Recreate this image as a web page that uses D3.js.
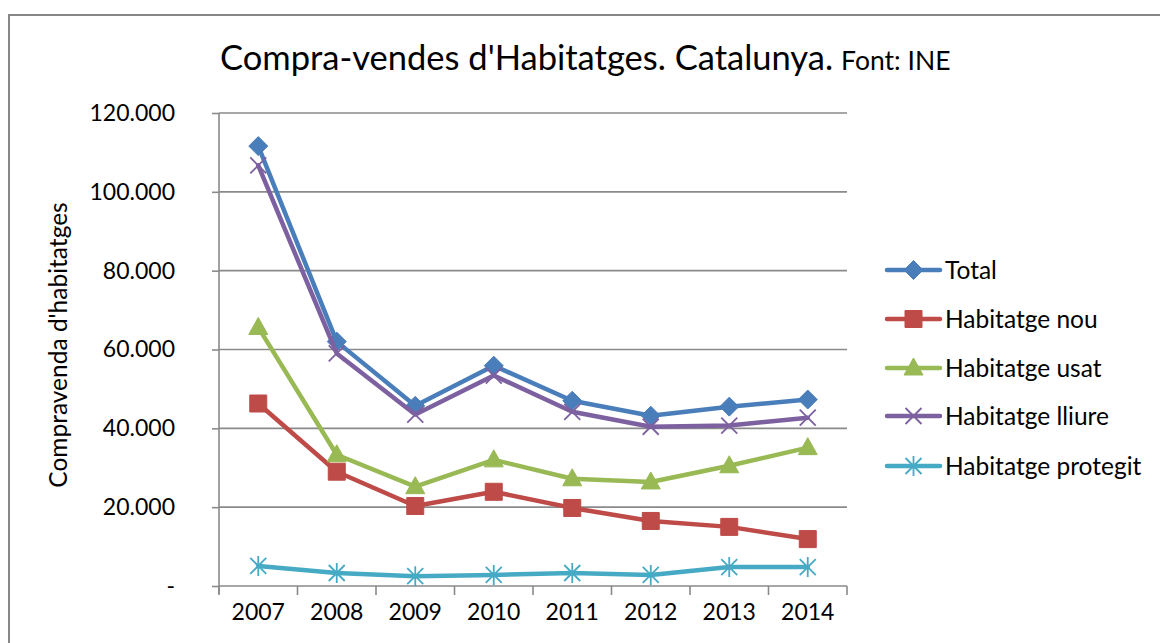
<!DOCTYPE html>
<html>
<head>
<meta charset="utf-8">
<script src="https://cdn.jsdelivr.net/npm/d3@7"></script>
<style>
  body { margin: 0; background: white; }
  text { font-family: Lato, "Open Sans", sans-serif; fill: #000; }
</style>
</head>
<body>
<div id="chart"></div>
<script>
var years = ["2007", "2008", "2009", "2010", "2011", "2012", "2013", "2014"];
var yTicks = [0, 20000, 40000, 60000, 80000, 100000, 120000];

var seriesNames = ["Total", "Habitatge nou", "Habitatge usat", "Habitatge lliure", "Habitatge protegit"];
var seriesColors = ["#4a7ebb", "#be4b48", "#98b954", "#7d60a0", "#46aac5"];
var seriesMarkers = ["diamond", "square", "triangle", "x", "star"];

var total     = [111600, 62000, 45700, 55900, 47000, 43200, 45500, 47300];
var nou       = [46300, 29000, 20300, 23900, 19800, 16500, 15000, 11900];
var usat      = [65600, 33300, 25200, 32000, 27200, 26400, 30500, 35100];
var lliure    = [106700, 59000, 43500, 53400, 44200, 40400, 40700, 42700];
var protegit  = [5100, 3300, 2500, 2800, 3300, 2800, 4800, 4800];

var seriesValues = [total, nou, usat, lliure, protegit];

var width = 1160, height = 643;
var plot = {left: 219, right: 847, top: 113, bottom: 586};

var svg = d3.select("#chart").append("svg")
  .attr("width", width)
  .attr("height", height);

// chart border (runs off the right/bottom edge like the screenshot)
svg.append("rect")
  .attr("x", 9).attr("y", 15)
  .attr("width", 1200).attr("height", 700)
  .attr("fill", "white")
  .attr("stroke", "#878787")
  .attr("stroke-width", 2);

var x = d3.scaleBand()
  .domain(years)
  .range([plot.left, plot.right])
  .paddingInner(0).paddingOuter(0);

var y = d3.scaleLinear()
  .domain([0, 120000])
  .range([plot.bottom, plot.top]);

function fmt(v) {
  if (v === 0) return "-";
  return d3.format(",")(v).replace(/,/g, ".");
}

// gridlines
svg.append("g")
  .selectAll("line")
  .data(yTicks.filter(function(d) { return d > 0; }))
  .enter().append("line")
    .attr("x1", plot.left).attr("x2", plot.right)
    .attr("y1", function(d) { return y(d); })
    .attr("y2", function(d) { return y(d); })
    .attr("stroke", "#8a8a8a")
    .attr("stroke-width", 1.6);

// y axis
var yAxis = svg.append("g")
  .attr("transform", "translate(" + plot.left + ",0)")
  .call(d3.axisLeft(y).tickValues(yTicks).tickFormat(fmt).tickSize(7).tickPadding(37));
yAxis.select(".domain").attr("stroke", "#8a8a8a").attr("stroke-width", 1.6)
  .attr("d", "M0," + (plot.top) + "V" + (plot.bottom + 8));
yAxis.selectAll(".tick line").attr("stroke", "#8a8a8a").attr("stroke-width", 1.6);
yAxis.selectAll(".tick text").attr("font-size", 23).attr("font-family", "Lato");

// x axis
var xAxis = svg.append("g")
  .attr("transform", "translate(0," + plot.bottom + ")")
  .call(d3.axisBottom(x).tickSize(0).tickPadding(18));
xAxis.select(".domain").attr("stroke", "#8a8a8a").attr("stroke-width", 1.6)
  .attr("d", "M" + plot.left + ",0H" + plot.right);
xAxis.selectAll(".tick text").attr("font-size", 23).attr("font-family", "Lato");
xAxis.append("g")
  .selectAll("line")
  .data(years.concat(["end"]))
  .enter().append("line")
    .attr("x1", function(d, i) { return i < years.length ? x(d) : plot.right; })
    .attr("x2", function(d, i) { return i < years.length ? x(d) : plot.right; })
    .attr("y1", 0).attr("y2", 9)
    .attr("stroke", "#8a8a8a")
    .attr("stroke-width", 1.6);

// titles
svg.append("text")
  .attr("x", 220).attr("y", 70)
  .attr("font-size", 34.5)
  .text("Compra-vendes d'Habitatges. Catalunya.")
  .append("tspan")
    .attr("dx", 8)
    .attr("font-size", 26.5)
    .text("Font: INE");

svg.append("text")
  .attr("transform", "translate(67,345) rotate(-90)")
  .attr("text-anchor", "middle")
  .attr("font-size", 24.5)
  .text("Compravenda d'habitatges");

function markerPath(type) {
  var p = d3.path();
  if (type === "diamond") {
    p.moveTo(0, -9.5); p.lineTo(9.5, 0); p.lineTo(0, 9.5); p.lineTo(-9.5, 0); p.closePath();
  } else if (type === "square") {
    p.rect(-8.5, -8.5, 17, 17);
  } else if (type === "triangle") {
    p.moveTo(0, -10); p.lineTo(9.5, 7); p.lineTo(-9.5, 7); p.closePath();
  } else if (type === "x") {
    p.moveTo(-8, -8); p.lineTo(8, 8); p.moveTo(8, -8); p.lineTo(-8, 8);
  } else {
    p.moveTo(-8, -8); p.lineTo(8, 8); p.moveTo(8, -8); p.lineTo(-8, 8);
    p.moveTo(0, -10); p.lineTo(0, 10);
  }
  return p.toString();
}

function drawMarker(g, type, color) {
  var stroked = type === "x" || type === "star";
  g.append("path")
    .attr("d", markerPath(type))
    .attr("fill", stroked ? "none" : color)
    .attr("stroke", color)
    .attr("stroke-width", stroked ? 1.8 : 1);
}

var line = d3.line()
  .x(function(d, i) { return x(years[i]) + x.bandwidth() / 2; })
  .y(function(d) { return y(d); });

seriesValues.forEach(function(vals, s) {
  var g = svg.append("g");
  g.append("path")
    .attr("d", line(vals))
    .attr("fill", "none")
    .attr("stroke", seriesColors[s])
    .attr("stroke-width", 4.5)
    .attr("stroke-linejoin", "round")
    .attr("stroke-linecap", "round");
  vals.forEach(function(v, i) {
    var m = g.append("g")
      .attr("transform", "translate(" + (x(years[i]) + x.bandwidth() / 2) + "," + y(v) + ")");
    drawMarker(m, seriesMarkers[s], seriesColors[s]);
  });
});

// legend
var legendY = [270, 319, 368, 416, 466];
var legend = svg.append("g");
seriesNames.forEach(function(name, s) {
  var g = legend.append("g").attr("transform", "translate(0," + legendY[s] + ")");
  g.append("line")
    .attr("x1", 887).attr("x2", 940)
    .attr("y1", 0).attr("y2", 0)
    .attr("stroke", seriesColors[s])
    .attr("stroke-width", 4.5)
    .attr("stroke-linecap", "round");
  var m = g.append("g").attr("transform", "translate(913.5,0)");
  drawMarker(m, seriesMarkers[s], seriesColors[s]);
  g.append("text")
    .attr("x", 945).attr("y", 8.5)
    .attr("font-size", 24.5)
    .text(name);
});
</script>
</body>
</html>
